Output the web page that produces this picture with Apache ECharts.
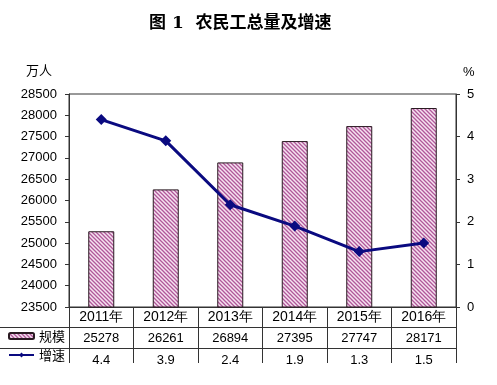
<!DOCTYPE html>
<html><head><meta charset="utf-8">
<script src="https://cdn.jsdelivr.net/npm/echarts@6/dist/echarts.min.js"></script>
<style>html,body{margin:0;padding:0;background:#fff}#c{width:497px;height:385px}</style>
</head><body><div id="c"></div>
<script>
var years = ['2011年','2012年','2013年','2014年','2015年','2016年'];
var scale = [25278, 26261, 26894, 27395, 27747, 28171];
var growth = [4.4, 3.9, 2.4, 1.9, 1.3, 1.5];
var leftTicks = {min: 23500, max: 28500, interval: 500};
var rightTicks = {min: 0, max: 5, interval: 1};

function hatch() {
  var c = document.createElement('canvas');
  c.width = 4; c.height = 4;
  var g = c.getContext('2d');
  g.fillStyle = '#f6e2f0';
  g.fillRect(0, 0, 4, 4);
  g.strokeStyle = '#b0589a';
  g.lineWidth = 1.3;
  g.beginPath();
  g.moveTo(-1, -1); g.lineTo(5, 5);
  g.moveTo(-1, 3); g.lineTo(1, 5);
  g.moveTo(3, -1); g.lineTo(5, 1);
  g.stroke();
  return c;
}
var pat = {image: hatch(), repeat: 'repeat'};

var chart = echarts.init(document.getElementById('c'));
var F = 'Liberation Sans, Arial, sans-serif';
var lineColor = '#333';
var gL = 69, gR = 456, gT = 94, gB = 307;
chart.setOption({
  animation: false,
  title: {
    text: '图 1  农民工总量及增速', left: 144, top: 10,
    textStyle: {fontSize: 17, fontWeight: 'bold', color: '#000', fontFamily: 'DejaVu Serif, Noto Sans CJK SC'}
  },
  legend: {
    orient: 'vertical', left: 8, top: 324, itemGap: 5, itemWidth: 25, itemHeight: 6, padding: [5, 0, 5, 0],
    textStyle: {fontSize: 13, lineHeight: 14, color: '#000', fontFamily: 'Noto Sans CJK SC'},
    data: ['规模', '增速']
  },
  grid: {left: gL, right: 497 - gR, top: gT, bottom: 385 - gB, show: true, borderColor: lineColor, borderWidth: 1},
  xAxis: [
    {type: 'category', data: years, position: 'bottom',
     axisLine: {show: true, lineStyle: {color: lineColor}},
     axisTick: {show: true, length: 56, interval: 0, lineStyle: {color: lineColor}},
     axisLabel: {interval: 0, margin: 3, fontSize: 14, color: '#000', fontFamily: F}},
    {type: 'category', data: scale, position: 'bottom', offset: 20,
     axisLine: {show: true, lineStyle: {color: lineColor}}, axisTick: {show: false},
     axisLabel: {interval: 0, margin: 5, fontSize: 13, color: '#000', fontFamily: F}},
    {type: 'category', data: growth, position: 'bottom', offset: 41,
     axisLine: {show: true, lineStyle: {color: lineColor}}, axisTick: {show: false},
     axisLabel: {interval: 0, margin: 6, fontSize: 13, color: '#000', fontFamily: F}}
  ],
  yAxis: [
    {type: 'value', min: leftTicks.min, max: leftTicks.max, interval: leftTicks.interval,
     name: '万人', nameGap: 17, nameTextStyle: {fontSize: 13, color: '#000', fontFamily: 'Noto Sans CJK SC', align: 'right', padding: [0, 17, 0, 0]},
     axisLine: {show: true, lineStyle: {color: lineColor}}, axisTick: {show: true, length: 4, lineStyle: {color: lineColor}},
     splitLine: {show: false}, axisLabel: {fontSize: 13, color: '#000', fontFamily: F, margin: 12, formatter: function (v) { return String(v); }}},
    {type: 'value', min: rightTicks.min, max: rightTicks.max, interval: rightTicks.interval,
     name: '%', nameGap: 15, nameTextStyle: {fontSize: 13, color: '#000', fontFamily: F, align: 'left', padding: [0, 0, 0, 7]},
     axisLine: {show: true, lineStyle: {color: lineColor}}, axisTick: {show: true, length: 4, lineStyle: {color: lineColor}},
     splitLine: {show: false}, axisLabel: {fontSize: 13, color: '#000', fontFamily: F, margin: 11}}
  ],
  series: [
    {name: '规模', type: 'bar', data: scale, xAxisIndex: 0, yAxisIndex: 0, barWidth: 26,
     itemStyle: {color: pat, borderColor: '#2a1a22', borderWidth: 1}},
    {name: '增速', type: 'line', data: growth, xAxisIndex: 0, yAxisIndex: 1, z: 5,
     symbol: 'diamond', symbolSize: 11, lineStyle: {color: '#0a0a80', width: 3},
     itemStyle: {color: '#0a0a80'}}
  ],
  graphic: [
    {type: 'line', shape: {x1: 0, y1: 327.5, x2: gL, y2: 327.5}, style: {stroke: lineColor, lineWidth: 1}},
    {type: 'line', shape: {x1: 0, y1: 348.5, x2: gL, y2: 348.5}, style: {stroke: lineColor, lineWidth: 1}}
  ]
});
</script></body></html>
